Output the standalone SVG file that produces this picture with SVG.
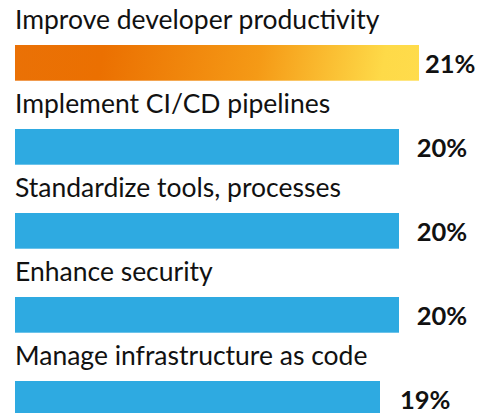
<svg xmlns="http://www.w3.org/2000/svg" width="494" height="413" viewBox="0 0 494 413">
<defs>
<linearGradient id="g1" gradientUnits="userSpaceOnUse" x1="15" y1="30" x2="419" y2="100">
<stop offset="0" stop-color="#EA7106"/>
<stop offset="0.22" stop-color="#EB7001"/>
<stop offset="0.6" stop-color="#F59A16"/>
<stop offset="0.9" stop-color="#FEDA48"/>
<stop offset="1" stop-color="#FFDC4C"/>
</linearGradient>
<style>
.lbl{font-family:Lato,"Liberation Sans",sans-serif;font-size:26.5px;fill:#111}
.pct{font-family:Lato,"Liberation Sans",sans-serif;font-size:25.5px;font-weight:bold;fill:#111}
.bar{fill:#2EAAE1}
</style>
</defs>
<rect width="494" height="413" fill="#fff"/>
<g id="row1">
<text class="lbl" x="15" y="29.3">Improve developer productivity</text>
<rect x="15" y="45" width="404" height="35.7" fill="url(#g1)"/>
<text class="pct" x="425" y="72.7">21%</text>
</g>
<g id="row2">
<text class="lbl" x="15" y="113.3">Implement CI/CD pipelines</text>
<rect class="bar" x="15" y="129" width="384" height="35.7"/>
<text class="pct" x="416.7" y="156.7">20%</text>
</g>
<g id="row3">
<text class="lbl" x="15" y="197.3">Standardize tools, processes</text>
<rect class="bar" x="15" y="213" width="384" height="35.7"/>
<text class="pct" x="416.7" y="240.7">20%</text>
</g>
<g id="row4">
<text class="lbl" x="15" y="281.3">Enhance security</text>
<rect class="bar" x="15" y="297" width="384" height="35.7"/>
<text class="pct" x="416.7" y="324.5">20%</text>
</g>
<g id="row5">
<text class="lbl" x="15" y="365.3">Manage infrastructure as code</text>
<rect class="bar" x="15" y="381" width="365" height="35.7"/>
<text class="pct" x="400" y="408.5">19%</text>
</g>
<g id="connectors"/>
</svg>
